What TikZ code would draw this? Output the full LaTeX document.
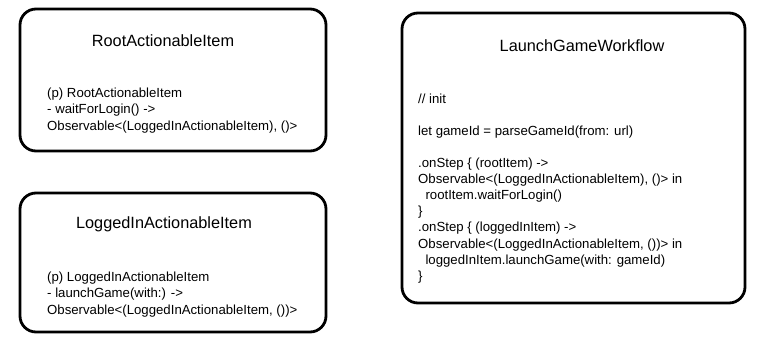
\documentclass[tikz,border=0pt]{standalone}
\usepackage{fontspec}
\setmainfont{Liberation Sans}
\begin{document}
\begin{tikzpicture}[x=1pt,y=-1pt,
  card/.style={draw=black,line width=2.8pt,rounded corners=16pt,fill=white},
  titletext/.style={inner sep=0pt,anchor=base,font=\fontsize{16.3}{19}\selectfont},
  bodytext/.style={inner sep=0pt,anchor=base west,font=\fontsize{13.2}{16}\selectfont}]
\useasboundingbox (0,0) rectangle (758,343);
\fill[white] (0,0) rectangle (758,343);
% boxes
\draw[card] (20,9) rectangle (326,151);
\draw[card] (20,193) rectangle (326,332);
\draw[card] (402,13) rectangle (745,303);
% box 1
\node[titletext] (t1) at (163,46) {RootActionableItem};
\foreach \txt [count=\i] in {{(p) RootActionableItem},{- waitForLogin() ->},{Observable<(LoggedInActionableItem), ()>}}
  \node[bodytext] (a\i) at (47,{97+16.8*(\i-1)}) {\txt};
% box 2
\node[titletext] (t2) at (164,228) {LoggedInActionableItem};
\foreach \txt [count=\i] in {{(p) LoggedInActionableItem},{- launchGame(with:) ->},{Observable<(LoggedInActionableItem, ())>}}
  \node[bodytext] (b\i) at (47,{281+16.8*(\i-1)}) {\txt};
% box 3
\node[titletext] (t3) at (582,51) {LaunchGameWorkflow};
\node[bodytext] (c1) at (418,103) {// init};
\node[bodytext] (c2) at (418,135) {let gameId = parseGameId(from: url)};
\foreach \txt [count=\i] in {{.onStep \{ (rootItem) ->},{Observable<(LoggedInActionableItem), ()> in},{\ \ rootItem.waitForLogin()},{\}},{.onStep \{ (loggedInItem) ->},{Observable<(LoggedInActionableItem, ())> in},{\ \ loggedInItem.launchGame(with: gameId)},{\}}}
  \node[bodytext] (d\i) at (418,{167+16.2*(\i-1)}) {\txt};
\end{tikzpicture}
\end{document}
